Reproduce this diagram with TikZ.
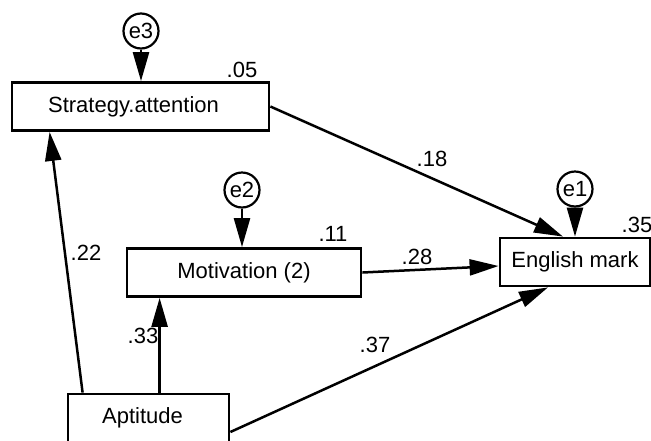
\documentclass[tikz,border=0pt]{standalone}
\usepackage{fontspec}
\setmainfont{Liberation Sans}
\usetikzlibrary{arrows.meta, calc}
\newcommand{\diagfont}{\fontsize{22}{26}\selectfont}

\begin{document}
\begin{tikzpicture}[x=1pt, y=-1pt, >={Triangle[length=29pt, width=16pt]},
  var/.style={draw, line width=2.8pt, minimum height=48pt, inner sep=0pt, font=\diagfont},
  err/.style={draw, circle, line width=2.2pt, minimum size=35pt, inner sep=0pt, font=\diagfont},
  path/.style={->, line width=2.5pt},
  coef/.style={inner sep=0pt, font=\diagfont}]
  \useasboundingbox (0,0) rectangle (651,440);

  % observed variables
  \node[var, minimum width=257pt] (strat) at (140.5,106.5) {\hspace*{-14pt}Strategy.attention};
  \node[var, minimum width=234pt] (motiv) at (244,272.5) {Motivation (2)};
  \node[var, minimum width=150pt] (eng) at (575,262) {English mark};
  \node[var, minimum width=161pt] (apt) at (148.5,418) {\hspace*{-12pt}Aptitude};

  % error terms
  \node[err] (e3) at (141,31) {e3};
  \node[err] (e2) at (242,190) {e2};
  \node[err] (e1) at (575,189) {e1};

  % paths
  \draw[path] (e3) -- (e3 |- strat.north);
  \draw[path] (e2) -- (e2 |- motiv.north);
  \draw[path] (e1) -- (eng);
  \draw[path] ([xshift=16pt]apt.north west) -- ([xshift=39pt]strat.south west);
  \draw[path] ([xshift=93pt]apt.north west) -- ([xshift=34pt]motiv.south west);
  \draw[path] ([yshift=-14pt]apt.east) -- ([xshift=-27pt]eng.south);
  \draw[path] (motiv.east) -- ([yshift=-4pt]eng.west);
  \draw[path] (strat.east) -- ([xshift=-12pt]eng.north);

  % squared multiple correlations
  \node[coef] (r3) at (242,70) {.05};
  \node[coef] (r2) at (333,234) {.11};
  \node[coef] (r1) at (637,225) {.35};

  % path coefficients
  \node[coef] (c18) at (432,159) {.18};
  \node[coef] (c28) at (417,257) {.28};
  \node[coef] (c22) at (86,253) {.22};
  \node[coef] (c33) at (143,336) {.33};
  \node[coef] (c37) at (375,345) {.37};
\end{tikzpicture}
\end{document}
